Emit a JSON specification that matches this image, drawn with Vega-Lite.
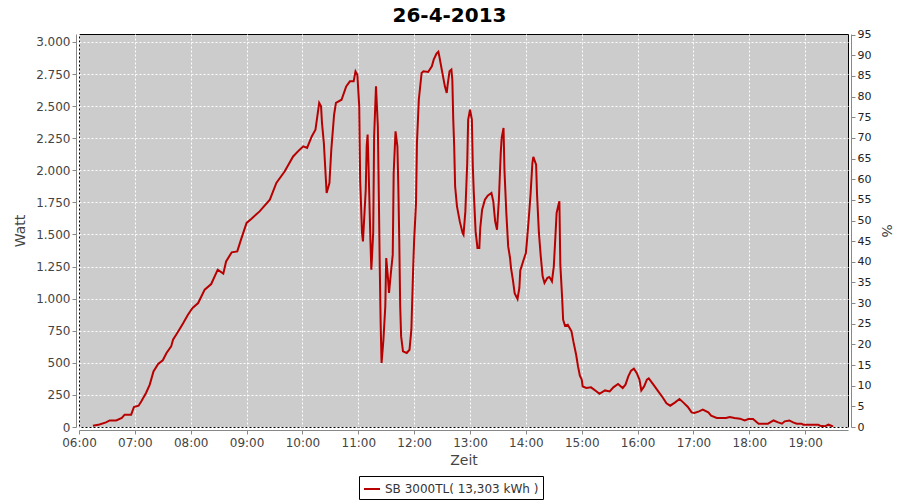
{
  "$schema": "https://vega.github.io/schema/vega-lite/v6.json",
  "autosize": "none",
  "width": 769,
  "height": 393,
  "padding": {"left": 79, "top": 34, "right": 52, "bottom": 73},
  "background": "white",
  "title": {"text": "26-4-2013", "font": "DejaVu Sans", "fontSize": 20, "fontWeight": "bold", "color": "black", "anchor": "middle", "dx": -14, "offset": 3},
  "config": {
    "view": {"fill": "#cccccc", "stroke": "black", "strokeWidth": 1},
    "axis": {"labelFont": "DejaVu Sans", "labelFontSize": 12, "labelColor": "#444444", "titleFont": "DejaVu Sans", "titleFontSize": 14, "titleFontWeight": "normal", "titleColor": "#444444", "domainColor": "#888888", "tickColor": "#888888", "tickSize": 4, "labelPadding": 2}
  },
  "data": {"values": [
    {"t":"2013-04-26T06:15:00Z","w":10},{"t":"2013-04-26T06:22:00Z","w":20},{"t":"2013-04-26T06:29:00Z","w":36},{"t":"2013-04-26T06:33:00Z","w":51},{"t":"2013-04-26T06:40:00Z","w":51},{"t":"2013-04-26T06:46:00Z","w":70},{"t":"2013-04-26T06:49:00Z","w":96},{"t":"2013-04-26T06:56:00Z","w":96},{"t":"2013-04-26T06:59:00Z","w":156},{"t":"2013-04-26T07:04:00Z","w":166},{"t":"2013-04-26T07:07:00Z","w":200},{"t":"2013-04-26T07:12:00Z","w":265},{"t":"2013-04-26T07:16:00Z","w":330},{"t":"2013-04-26T07:20:00Z","w":433},{"t":"2013-04-26T07:25:00Z","w":491},{"t":"2013-04-26T07:30:00Z","w":520},{"t":"2013-04-26T07:34:00Z","w":577},{"t":"2013-04-26T07:39:00Z","w":628},{"t":"2013-04-26T07:41:00Z","w":680},{"t":"2013-04-26T07:45:00Z","w":727},{"t":"2013-04-26T07:47:00Z","w":750},{"t":"2013-04-26T07:52:00Z","w":810},{"t":"2013-04-26T07:57:00Z","w":875},{"t":"2013-04-26T08:02:00Z","w":927},{"t":"2013-04-26T08:08:00Z","w":966},{"t":"2013-04-26T08:15:00Z","w":1070},{"t":"2013-04-26T08:22:00Z","w":1114},{"t":"2013-04-26T08:29:00Z","w":1226},{"t":"2013-04-26T08:35:00Z","w":1195},{"t":"2013-04-26T08:38:00Z","w":1290},{"t":"2013-04-26T08:44:00Z","w":1361},{"t":"2013-04-26T08:50:00Z","w":1368},{"t":"2013-04-26T08:54:00Z","w":1460},{"t":"2013-04-26T09:00:00Z","w":1590},{"t":"2013-04-26T09:05:00Z","w":1621},{"t":"2013-04-26T09:14:00Z","w":1680},{"t":"2013-04-26T09:25:00Z","w":1771},{"t":"2013-04-26T09:32:00Z","w":1901},{"t":"2013-04-26T09:41:00Z","w":1992},{"t":"2013-04-26T09:50:00Z","w":2108},{"t":"2013-04-26T09:57:00Z","w":2161},{"t":"2013-04-26T10:01:00Z","w":2187},{"t":"2013-04-26T10:05:00Z","w":2174},{"t":"2013-04-26T10:10:00Z","w":2264},{"t":"2013-04-26T10:14:00Z","w":2317},{"t":"2013-04-26T10:18:00Z","w":2525},{"t":"2013-04-26T10:20:00Z","w":2498},{"t":"2013-04-26T10:21:00Z","w":2369},{"t":"2013-04-26T10:23:00Z","w":2213},{"t":"2013-04-26T10:26:00Z","w":1823},{"t":"2013-04-26T10:29:00Z","w":1901},{"t":"2013-04-26T10:31:00Z","w":2161},{"t":"2013-04-26T10:34:00Z","w":2433},{"t":"2013-04-26T10:36:00Z","w":2525},{"t":"2013-04-26T10:42:00Z","w":2550},{"t":"2013-04-26T10:47:00Z","w":2654},{"t":"2013-04-26T10:51:00Z","w":2693},{"t":"2013-04-26T10:55:00Z","w":2693},{"t":"2013-04-26T10:57:00Z","w":2771},{"t":"2013-04-26T10:59:00Z","w":2745},{"t":"2013-04-26T11:01:00Z","w":2498},{"t":"2013-04-26T11:02:00Z","w":1927},{"t":"2013-04-26T11:04:00Z","w":1512},{"t":"2013-04-26T11:05:00Z","w":1446},{"t":"2013-04-26T11:08:00Z","w":1849},{"t":"2013-04-26T11:09:00Z","w":2187},{"t":"2013-04-26T11:10:00Z","w":2278},{"t":"2013-04-26T11:11:00Z","w":2031},{"t":"2013-04-26T11:13:00Z","w":1459},{"t":"2013-04-26T11:14:00Z","w":1226},{"t":"2013-04-26T11:16:00Z","w":1512},{"t":"2013-04-26T11:17:00Z","w":2264},{"t":"2013-04-26T11:19:00Z","w":2654},{"t":"2013-04-26T11:21:00Z","w":2342},{"t":"2013-04-26T11:22:00Z","w":1823},{"t":"2013-04-26T11:23:00Z","w":1278},{"t":"2013-04-26T11:24:00Z","w":810},{"t":"2013-04-26T11:25:00Z","w":499},{"t":"2013-04-26T11:27:00Z","w":680},{"t":"2013-04-26T11:29:00Z","w":940},{"t":"2013-04-26T11:30:00Z","w":1317},{"t":"2013-04-26T11:32:00Z","w":1148},{"t":"2013-04-26T11:33:00Z","w":1044},{"t":"2013-04-26T11:35:00Z","w":1200},{"t":"2013-04-26T11:37:00Z","w":1343},{"t":"2013-04-26T11:38:00Z","w":1979},{"t":"2013-04-26T11:40:00Z","w":2303},{"t":"2013-04-26T11:42:00Z","w":2187},{"t":"2013-04-26T11:43:00Z","w":1875},{"t":"2013-04-26T11:44:00Z","w":1459},{"t":"2013-04-26T11:45:00Z","w":940},{"t":"2013-04-26T11:46:00Z","w":706},{"t":"2013-04-26T11:48:00Z","w":589},{"t":"2013-04-26T11:52:00Z","w":577},{"t":"2013-04-26T11:55:00Z","w":602},{"t":"2013-04-26T11:57:00Z","w":758},{"t":"2013-04-26T11:59:00Z","w":1251},{"t":"2013-04-26T12:00:00Z","w":1459},{"t":"2013-04-26T12:02:00Z","w":1745},{"t":"2013-04-26T12:03:00Z","w":2213},{"t":"2013-04-26T12:05:00Z","w":2550},{"t":"2013-04-26T12:08:00Z","w":2758},{"t":"2013-04-26T12:10:00Z","w":2771},{"t":"2013-04-26T12:15:00Z","w":2766},{"t":"2013-04-26T12:19:00Z","w":2810},{"t":"2013-04-26T12:21:00Z","w":2862},{"t":"2013-04-26T12:24:00Z","w":2909},{"t":"2013-04-26T12:26:00Z","w":2924},{"t":"2013-04-26T12:27:00Z","w":2890},{"t":"2013-04-26T12:30:00Z","w":2771},{"t":"2013-04-26T12:33:00Z","w":2654},{"t":"2013-04-26T12:35:00Z","w":2603},{"t":"2013-04-26T12:36:00Z","w":2667},{"t":"2013-04-26T12:38:00Z","w":2771},{"t":"2013-04-26T12:40:00Z","w":2784},{"t":"2013-04-26T12:41:00Z","w":2706},{"t":"2013-04-26T12:42:00Z","w":2395},{"t":"2013-04-26T12:43:00Z","w":2187},{"t":"2013-04-26T12:44:00Z","w":1875},{"t":"2013-04-26T12:46:00Z","w":1719},{"t":"2013-04-26T12:49:00Z","w":1602},{"t":"2013-04-26T12:52:00Z","w":1512},{"t":"2013-04-26T12:53:00Z","w":1498},{"t":"2013-04-26T12:55:00Z","w":1680},{"t":"2013-04-26T12:57:00Z","w":2057},{"t":"2013-04-26T12:58:00Z","w":2395},{"t":"2013-04-26T13:00:00Z","w":2472},{"t":"2013-04-26T13:02:00Z","w":2395},{"t":"2013-04-26T13:03:00Z","w":2031},{"t":"2013-04-26T13:04:00Z","w":1836},{"t":"2013-04-26T13:06:00Z","w":1524},{"t":"2013-04-26T13:08:00Z","w":1395},{"t":"2013-04-26T13:10:00Z","w":1395},{"t":"2013-04-26T13:11:00Z","w":1551},{"t":"2013-04-26T13:13:00Z","w":1693},{"t":"2013-04-26T13:16:00Z","w":1771},{"t":"2013-04-26T13:19:00Z","w":1802},{"t":"2013-04-26T13:23:00Z","w":1823},{"t":"2013-04-26T13:25:00Z","w":1758},{"t":"2013-04-26T13:27:00Z","w":1602},{"t":"2013-04-26T13:29:00Z","w":1537},{"t":"2013-04-26T13:31:00Z","w":1771},{"t":"2013-04-26T13:33:00Z","w":2135},{"t":"2013-04-26T13:34:00Z","w":2252},{"t":"2013-04-26T13:36:00Z","w":2330},{"t":"2013-04-26T13:37:00Z","w":2000},{"t":"2013-04-26T13:39:00Z","w":1667},{"t":"2013-04-26T13:41:00Z","w":1407},{"t":"2013-04-26T13:43:00Z","w":1317},{"t":"2013-04-26T13:44:00Z","w":1240},{"t":"2013-04-26T13:46:00Z","w":1148},{"t":"2013-04-26T13:48:00Z","w":1040},{"t":"2013-04-26T13:51:00Z","w":997},{"t":"2013-04-26T13:53:00Z","w":1083},{"t":"2013-04-26T13:54:00Z","w":1220},{"t":"2013-04-26T13:57:00Z","w":1290},{"t":"2013-04-26T14:00:00Z","w":1356},{"t":"2013-04-26T14:01:00Z","w":1434},{"t":"2013-04-26T14:03:00Z","w":1615},{"t":"2013-04-26T14:05:00Z","w":1810},{"t":"2013-04-26T14:07:00Z","w":2057},{"t":"2013-04-26T14:08:00Z","w":2104},{"t":"2013-04-26T14:11:00Z","w":2044},{"t":"2013-04-26T14:12:00Z","w":1810},{"t":"2013-04-26T14:14:00Z","w":1512},{"t":"2013-04-26T14:16:00Z","w":1329},{"t":"2013-04-26T14:18:00Z","w":1174},{"t":"2013-04-26T14:20:00Z","w":1122},{"t":"2013-04-26T14:23:00Z","w":1161},{"t":"2013-04-26T14:25:00Z","w":1169},{"t":"2013-04-26T14:26:00Z","w":1161},{"t":"2013-04-26T14:28:00Z","w":1135},{"t":"2013-04-26T14:30:00Z","w":1251},{"t":"2013-04-26T14:32:00Z","w":1524},{"t":"2013-04-26T14:33:00Z","w":1667},{"t":"2013-04-26T14:35:00Z","w":1732},{"t":"2013-04-26T14:36:00Z","w":1758},{"t":"2013-04-26T14:37:00Z","w":1265},{"t":"2013-04-26T14:39:00Z","w":1000},{"t":"2013-04-26T14:40:00Z","w":836},{"t":"2013-04-26T14:42:00Z","w":789},{"t":"2013-04-26T14:45:00Z","w":797},{"t":"2013-04-26T14:49:00Z","w":745},{"t":"2013-04-26T14:51:00Z","w":667},{"t":"2013-04-26T14:54:00Z","w":563},{"t":"2013-04-26T14:56:00Z","w":472},{"t":"2013-04-26T14:58:00Z","w":400},{"t":"2013-04-26T15:00:00Z","w":369},{"t":"2013-04-26T15:01:00Z","w":316},{"t":"2013-04-26T15:05:00Z","w":304},{"t":"2013-04-26T15:10:00Z","w":309},{"t":"2013-04-26T15:16:00Z","w":277},{"t":"2013-04-26T15:19:00Z","w":259},{"t":"2013-04-26T15:25:00Z","w":285},{"t":"2013-04-26T15:30:00Z","w":277},{"t":"2013-04-26T15:34:00Z","w":309},{"t":"2013-04-26T15:39:00Z","w":335},{"t":"2013-04-26T15:44:00Z","w":304},{"t":"2013-04-26T15:47:00Z","w":330},{"t":"2013-04-26T15:50:00Z","w":394},{"t":"2013-04-26T15:53:00Z","w":439},{"t":"2013-04-26T15:56:00Z","w":454},{"t":"2013-04-26T15:59:00Z","w":421},{"t":"2013-04-26T16:02:00Z","w":369},{"t":"2013-04-26T16:04:00Z","w":285},{"t":"2013-04-26T16:07:00Z","w":316},{"t":"2013-04-26T16:10:00Z","w":369},{"t":"2013-04-26T16:12:00Z","w":379},{"t":"2013-04-26T16:17:00Z","w":330},{"t":"2013-04-26T16:22:00Z","w":280},{"t":"2013-04-26T16:27:00Z","w":230},{"t":"2013-04-26T16:31:00Z","w":185},{"t":"2013-04-26T16:35:00Z","w":166},{"t":"2013-04-26T16:40:00Z","w":190},{"t":"2013-04-26T16:45:00Z","w":218},{"t":"2013-04-26T16:49:00Z","w":192},{"t":"2013-04-26T16:54:00Z","w":156},{"t":"2013-04-26T16:58:00Z","w":114},{"t":"2013-04-26T17:01:00Z","w":109},{"t":"2013-04-26T17:06:00Z","w":122},{"t":"2013-04-26T17:10:00Z","w":135},{"t":"2013-04-26T17:16:00Z","w":114},{"t":"2013-04-26T17:19:00Z","w":88},{"t":"2013-04-26T17:25:00Z","w":70},{"t":"2013-04-26T17:30:00Z","w":70},{"t":"2013-04-26T17:35:00Z","w":70},{"t":"2013-04-26T17:39:00Z","w":78},{"t":"2013-04-26T17:44:00Z","w":70},{"t":"2013-04-26T17:50:00Z","w":65},{"t":"2013-04-26T17:55:00Z","w":51},{"t":"2013-04-26T17:59:00Z","w":62},{"t":"2013-04-26T18:04:00Z","w":62},{"t":"2013-04-26T18:10:00Z","w":26},{"t":"2013-04-26T18:15:00Z","w":26},{"t":"2013-04-26T18:20:00Z","w":26},{"t":"2013-04-26T18:26:00Z","w":51},{"t":"2013-04-26T18:31:00Z","w":36},{"t":"2013-04-26T18:35:00Z","w":26},{"t":"2013-04-26T18:38:00Z","w":44},{"t":"2013-04-26T18:43:00Z","w":51},{"t":"2013-04-26T18:47:00Z","w":36},{"t":"2013-04-26T18:51:00Z","w":26},{"t":"2013-04-26T18:56:00Z","w":26},{"t":"2013-04-26T18:58:00Z","w":18},{"t":"2013-04-26T19:05:00Z","w":18},{"t":"2013-04-26T19:14:00Z","w":18},{"t":"2013-04-26T19:16:00Z","w":10},{"t":"2013-04-26T19:21:00Z","w":5},{"t":"2013-04-26T19:25:00Z","w":18},{"t":"2013-04-26T19:28:00Z","w":10},{"t":"2013-04-26T19:30:00Z","w":2}
  ]},
  "layer": [
    {
      "mark": {"type": "line", "strokeWidth": 2, "clip": true},
      "encoding": {
        "x": {"field": "t", "type": "temporal",
          "scale": {"type": "utc", "domain": [1366956000000, 1367005560000], "nice": false},
          "axis": {"title": "Zeit", "labelExpr": "utcFormat(datum.value, '%H:%M')", "labelOverlap": false, "labelFlush": false, "values": [1366956000000,1366959600000,1366963200000,1366966800000,1366970400000,1366974000000,1366977600000,1366981200000,1366984800000,1366988400000,1366992000000,1366995600000,1366999200000,1367002800000], "offset": 3, "grid": true, "gridColor": "white", "gridDash": [2, 2], "gridOpacity": 1, "labelFontSize": 12, "labelPadding": 3, "titlePadding": 5}},
        "y": {"field": "w", "type": "quantitative",
          "scale": {"domain": [0, 3062], "nice": false},
          "axis": {"title": "Watt", "orient": "left", "values": [0,250,500,750,1000,1250,1500,1750,2000,2250,2500,2750,3000], "labelExpr": "replace(format(datum.value, ','), ',', '.')", "offset": 3, "grid": true, "gridColor": "white", "gridDash": [2, 2], "gridOpacity": 1, "labelFontSize": 12, "titlePadding": 8}},
        "color": {"datum": "SB 3000TL( 13,303 kWh )", "type": "nominal",
          "scale": {"range": ["#b80000"]},
          "legend": {"title": null, "orient": "none", "legendX": 280, "legendY": 442, "strokeColor": "black", "fillColor": "white", "padding": 4, "symbolType": "stroke", "symbolStrokeWidth": 2, "symbolSize": 256, "labelFont": "DejaVu Sans", "labelFontSize": 12, "labelColor": "#333333", "labelOffset": 4}}
      }
    },
    {
      "data": {"values": [{"p": 0}, {"p": 95}]},
      "mark": {"type": "point", "opacity": 0},
      "encoding": {
        "y": {"field": "p", "type": "quantitative",
          "scale": {"domain": [0, 95.17], "nice": false},
          "axis": {"title": "%", "orient": "right", "values": [0,5,10,15,20,25,30,35,40,45,50,55,60,65,70,75,80,85,90,95], "offset": 3, "grid": false, "labelFontSize": 11, "labelColor": "#222222", "titlePadding": 8}}
      }
    }
  ],
  "resolve": {"scale": {"y": "independent"}, "axis": {"y": "independent"}}
}
